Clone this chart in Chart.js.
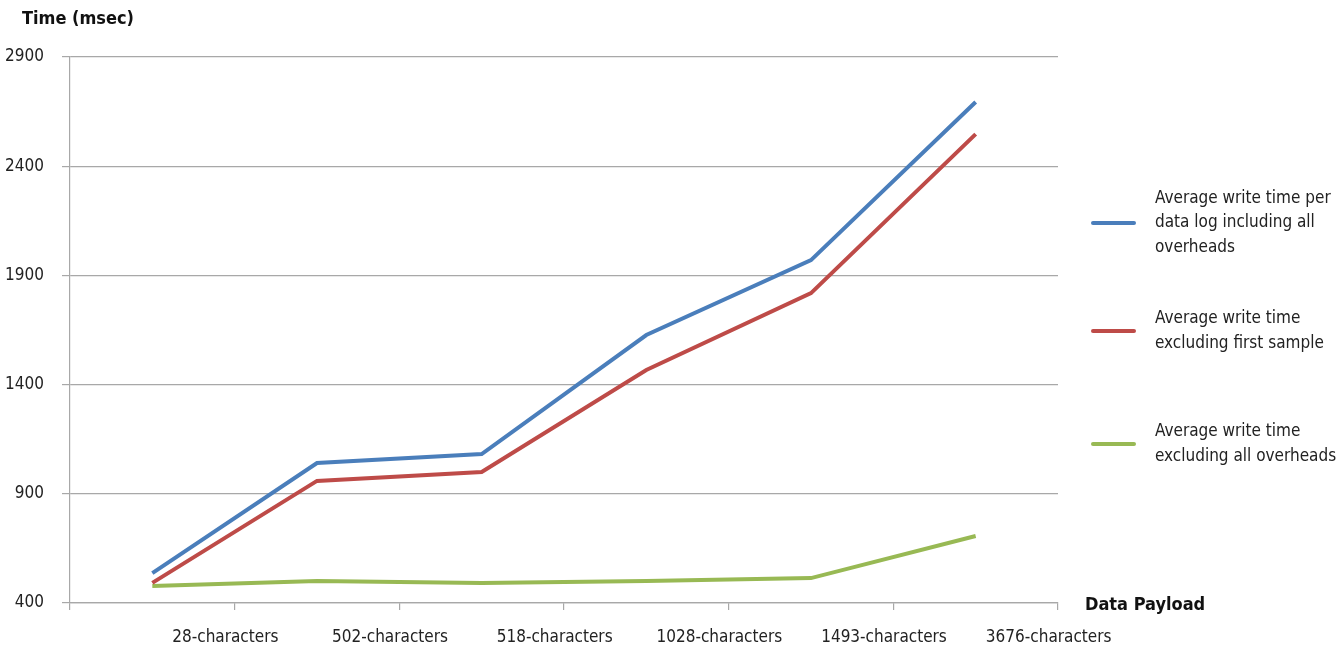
<!DOCTYPE html>
<html>
<head>
<meta charset="utf-8">
<script src="https://cdn.jsdelivr.net/npm/chart.js@4.4.1/dist/chart.umd.min.js"></script>
<style>
    html, body { margin: 0; padding: 0; background: #fff; }
    #wrap { position: relative; width: 1338px; height: 650px; }
</style>
</head>
<body>
<div id="wrap"><canvas id="chart_main" width="1338" height="650"></canvas></div>
<script>
var categories = ['28-characters', '502-characters', '518-characters', '1028-characters', '1493-characters', '3676-characters'];
var allOverheads = [537, 1041, 1082, 1627, 1970, 2694];
var exclFirstSample = [492, 959, 1000, 1467, 1819, 2547];
var exclAllOverheads = [478, 501, 492, 501, 514, 707];
var yTicks = [400, 900, 1400, 1900, 2400, 2900];

var fontFamily = "'Liberation Sans Narrow', 'DejaVu Sans Condensed', 'Roboto Condensed', Roboto, sans-serif";
var gridColor = '#a8a8a8';

var legendItems = [
    { color: '#4a7ebb', lines: ['Average write time per', 'data log including all', 'overheads'], y: 223 },
    { color: '#be4b48', lines: ['Average write time', 'excluding first sample'], y: 331 },
    { color: '#98b954', lines: ['Average write time', 'excluding all overheads'], y: 444 }
];

// titles and side legend drawn after the chart
var extrasPlugin = {
    id: 'extras',
    afterDraw: function (chart) {
        let ctx = chart.ctx;
        ctx.save();
        ctx.fillStyle = '#111';
        ctx.font = 'bold 18px ' + fontFamily;
        ctx.textAlign = 'left';
        ctx.textBaseline = 'middle';
        ctx.fillText('Time (msec)', 22, 19);
        ctx.fillText('Data Payload', 1085, 605);

        ctx.font = '17px ' + fontFamily;
        for (let i = 0; i < legendItems.length; i++) {
            let item = legendItems[i];
            ctx.strokeStyle = item.color;
            ctx.lineWidth = 4;
            ctx.lineCap = 'round';
            ctx.beginPath();
            ctx.moveTo(1093, item.y);
            ctx.lineTo(1134, item.y);
            ctx.stroke();
            let lineH = 24.5;
            let startY = item.y - (item.lines.length - 1) * lineH / 2;
            ctx.fillStyle = '#222';
            for (let j = 0; j < item.lines.length; j++) {
                ctx.fillText(item.lines[j], 1155, startY + j * lineH);
            }
        }
        ctx.restore();
    }
};

var makeSet = function (label, data, color) {
    return {
        label: label,
        data: data,
        borderColor: color,
        backgroundColor: color,
        borderWidth: 4,
        pointRadius: 0,
        tension: 0,
        fill: false
    };
};

new Chart('chart_main', {
    type: 'line',
    data: {
        labels: categories,
        datasets: [
            makeSet('Average write time per data log including all overheads', allOverheads, '#4a7ebb'),
            makeSet('Average write time excluding first sample', exclFirstSample, '#be4b48'),
            makeSet('Average write time excluding all overheads', exclAllOverheads, '#98b954')
        ]
    },
    options: {
        responsive: false,
        animation: false,
        layout: { padding: { left: 0, top: 57, right: 280, bottom: 0 } },
        plugins: { legend: { display: false }, tooltip: { enabled: false } },
        scales: {
            x: {
                offset: true,
                grid: { offset: true, drawOnChartArea: false, color: gridColor, tickLength: 7, lineWidth: 1.2 },
                border: { color: gridColor, width: 1.2 },
                ticks: { color: '#222', font: { family: fontFamily, size: 17 }, labelOffset: 73, padding: 17, maxRotation: 0, autoSkip: false },
                afterFit: function (scale) { scale.height = 47; }
            },
            y: {
                min: 400,
                max: 2900,
                afterBuildTicks: function (scale) { scale.ticks = yTicks.map(function (v) { return { value: v }; }); },
                grid: { color: gridColor, tickLength: 8, lineWidth: 1.2 },
                border: { color: gridColor, width: 1.2 },
                ticks: {
                    color: '#222',
                    font: { family: fontFamily, size: 17 },
                    padding: 18,
                    callback: function (value) { return String(value); }
                },
                afterFit: function (scale) { scale.width = 70; }
            }
        }
    },
    plugins: [extrasPlugin]
});
</script>
</body>
</html>
